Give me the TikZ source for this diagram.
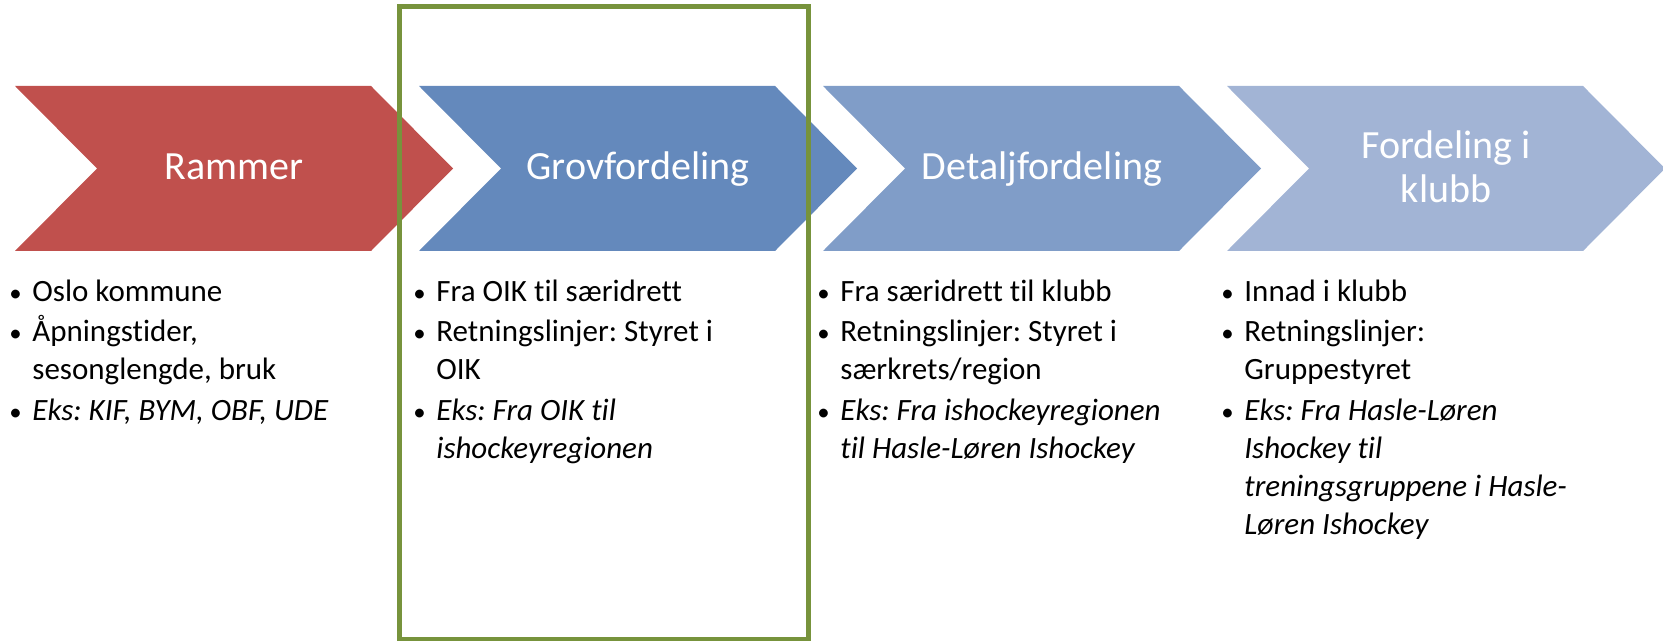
\documentclass[tikz,border=0pt]{standalone}
\usepackage{fontspec}
\setmainfont{Carlito}[Ligatures=NoCommon]
\frenchspacing
\definecolor{rammerred}{RGB}{192,80,77}
\definecolor{grovblue}{RGB}{100,137,188}
\definecolor{detaljblue}{RGB}{128,157,200}
\definecolor{klubbblue}{RGB}{162,180,213}
\definecolor{rammegreen}{RGB}{119,147,60}
\newcommand{\pkt}{\par\hangindent=8.5pt\hangafter=1\noindent\makebox[8.5pt][l]{\hspace{-3pt}\scalebox{0.8}{\textbullet}}}

\begin{document}
\begin{tikzpicture}[x=0.5pt,y=-0.5pt,
    titel/.style={text=white,font=\fontsize{20}{22}\selectfont,inner sep=0},
    punkt/.style={inner sep=0,anchor=base west,font=\fontsize{15.5}{19}\selectfont}]
                \useasboundingbox (0,0) rectangle (1663,641);
                \foreach \l/\c in {15/rammerred,419/grovblue,823/detaljblue,1227/klubbblue}
                {
                \fill[\c] (\l,86) -- (\l+356,86) -- (\l+438,168.5) -- (\l+356,251) -- (\l,251) -- (\l+82,168.5) -- cycle;
                }
                \node[titel,anchor=base] (rammer) at (234,180) {Rammer};
                \node[titel,anchor=base] (grov) at (638,180) {Grovfordeling};
                \node[titel,anchor=base] (detalj) at (1042,180) {Detaljfordeling};
                \node[titel,align=center] (klubb) at (1446,167) {Fordeling i\\klubb};
                \node[punkt] (rammerpkt) at (15,302) {\parbox[t]{200pt}{\parskip=1pt
                \pkt Oslo kommune
                \pkt Åpningstider,\newline sesonglengde, bruk
                \pkt \textit{Eks: KIF, BYM, OBF, UDE}}};
                \node[punkt] (grovpkt) at (419,302) {\parbox[t]{200pt}{\parskip=1pt
                \pkt Fra OIK til særidrett
                \pkt Retningslinjer: Styret i\newline OIK
                \pkt \textit{Eks: Fra OIK til\newline ishockeyregionen}}};
                \node[punkt] (detaljpkt) at (823,302) {\parbox[t]{200pt}{\parskip=1pt
                \pkt Fra særidrett til klubb
                \pkt Retningslinjer: Styret i\newline særkrets/region
                \pkt \textit{Eks: Fra ishockeyregionen\newline til Hasle-Løren Ishockey}}};
                \node[punkt] (klubbpkt) at (1227,302) {\parbox[t]{200pt}{\parskip=1pt
                \pkt Innad i klubb
                \pkt Retningslinjer:\newline Gruppestyret
                \pkt \textit{Eks: Fra Hasle-Løren\newline Ishockey til\newline treningsgruppene i Hasle-\newline Løren Ishockey}}};
                \draw[line width=2.5pt,rammegreen] (399.5,7) rectangle (808.5,639);
            \end{tikzpicture}
\end{document}
